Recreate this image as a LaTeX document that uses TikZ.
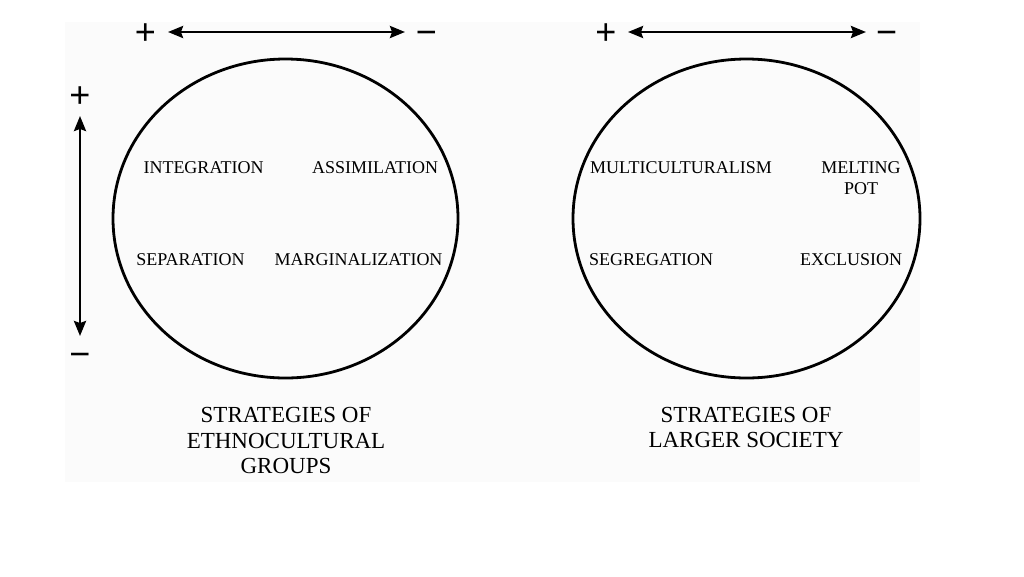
\documentclass[tikz,border=0pt]{standalone}
\usepackage{fontspec}
\setmainfont{Liberation Serif}
\newfontfamily\signfont{Liberation Sans}
\usetikzlibrary{arrows.meta}

\begin{document}
\begin{tikzpicture}[x=1pt, y=-1pt,
  axis/.style={{Stealth[length=15pt,width=12pt,inset=2pt]}-{Stealth[length=15pt,width=12pt,inset=2pt]}, line width=2.6pt, black},
  sign/.style={font=\signfont\fontsize{36}{36}\selectfont, inner sep=0pt},
  strat/.style={font=\fontsize{18}{20.7}\selectfont, inner sep=0pt, align=center},
  caption/.style={font=\fontsize{23}{25.5}\selectfont, inner sep=0pt, align=center},
  ring/.style={line width=2.8pt, black}]
\useasboundingbox (0,0) rectangle (1024,576);
\fill [black!1.5] (65,22) rectangle (920,482);

% ethnocultural groups
\node [sign] (plusTopA) at (145.5,34.5) {+};
\node [sign] (minusTopA) at (426.5,38) {−};
\coordinate (tipLeftA) at (168,32);
\coordinate (tipRightA) at (405,32);
\draw [axis] (tipLeftA) -- (tipRightA);
\node [sign] (plusSide) at (80,97.5) {+};
\node [sign] (minusSide) at (80,360) {−};
\coordinate (tipUp) at (80,116);
\coordinate (tipDown) at (80,336);
\draw [axis] (tipUp) -- (tipDown);
\draw [ring] (285.5,218.5) ellipse [x radius=172.5, y radius=159.5];
\node [strat] (integration) at (203.5,168) {INTEGRATION};
\node [strat] (assimilation) at (375,168) {ASSIMILATION};
\node [strat] (separation) at (190.5,260) {SEPARATION};
\node [strat] (marginalization) at (358.5,260) {MARGINALIZATION};
\node [caption] (groups) at (286,440.5) {STRATEGIES OF\\ETHNOCULTURAL\\GROUPS};

% larger society
\node [sign] (plusTopB) at (606,34.5) {+};
\node [sign] (minusTopB) at (886.5,38) {−};
\coordinate (tipLeftB) at (628,32);
\coordinate (tipRightB) at (866,32);
\draw [axis] (tipLeftB) -- (tipRightB);
\draw [ring] (746.5,218.5) ellipse [x radius=173.5, y radius=159.5];
\node [strat] (multiculturalism) at (681,168) {MULTICULTURALISM};
\node [strat] (meltingpot) at (861,178.4) {MELTING\\POT};
\node [strat] (segregation) at (651,260) {SEGREGATION};
\node [strat] (exclusion) at (851,260) {EXCLUSION};
\node [caption] (society) at (746,427.5) {STRATEGIES OF\\LARGER SOCIETY};
\end{tikzpicture}
\end{document}
